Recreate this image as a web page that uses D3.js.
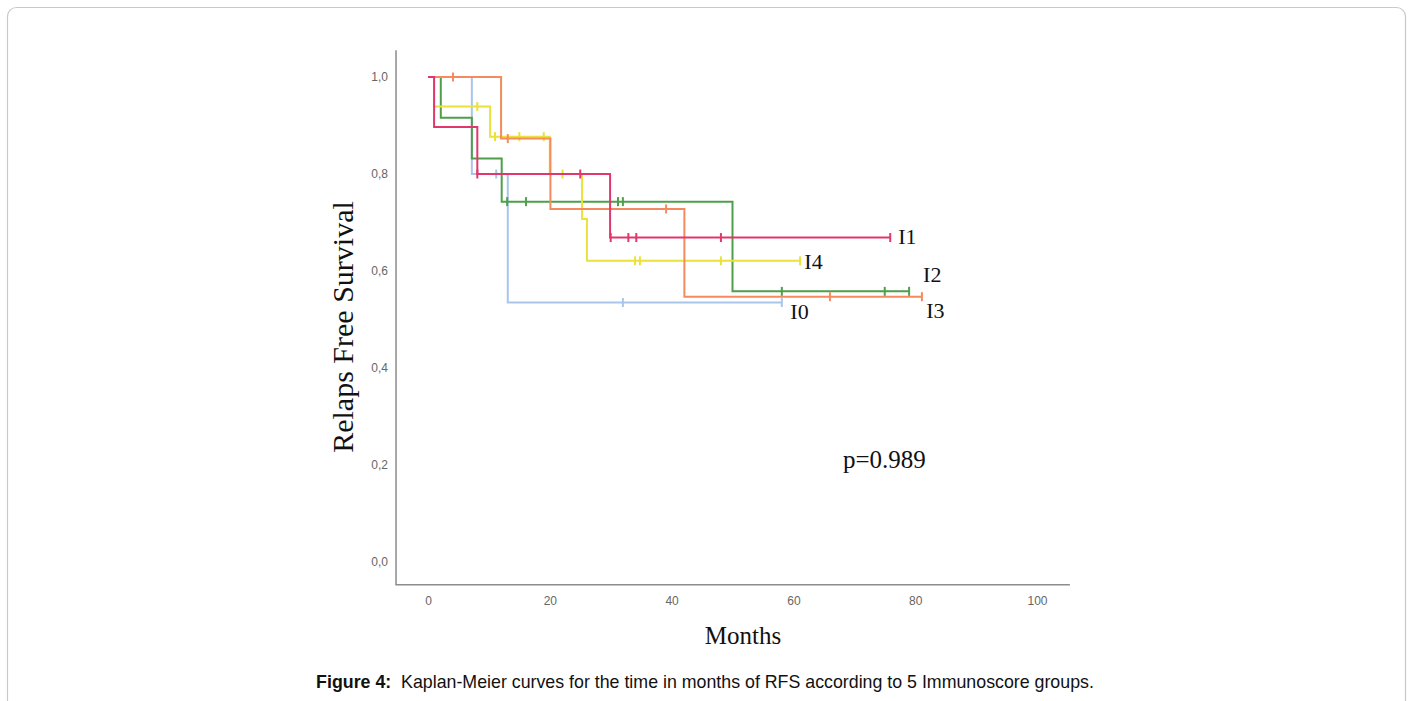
<!DOCTYPE html>
<html>
<head>
<meta charset="utf-8">
<script src="https://cdn.jsdelivr.net/npm/d3@7"></script>
<style>
  html, body { margin: 0; padding: 0; background: #fff; }
  svg { display: block; }
</style>
</head>
<body>
<svg id="chart" width="1413" height="701"></svg>
<script>
// ---------- data ----------
const groups = ["I0", "I1", "I2", "I3", "I4"];
const groupColors = ["#a9c6ea", "#e0386c", "#4e9e4a", "#f48a5e", "#e8e23a"];

// step times (months) and survival after each step
const i0Times = [0, 7.2, 13.1];
const i0Surv  = [1.0, 0.80, 0.535];
const i0End = 58.1;
const i0Censor = [11.2, 32.0, 58.1];

const i1Times = [0, 1.0, 8.1, 29.9];
const i1Surv  = [1.0, 0.897, 0.80, 0.669];
const i1End = 75.9;
const i1Censor = [8.1, 25.0, 30.0, 32.9, 34.2, 48.1, 75.9];

const i2Times = [0, 2.1, 7.2, 12.1, 50.0];
const i2Surv  = [1.0, 0.916, 0.832, 0.743, 0.558];
const i2End = 79.0;
const i2Censor = [13.0, 16.1, 31.2, 32.0, 58.1, 75.0, 79.0];

const i3Times = [0, 12.0, 20.1, 42.1];
const i3Surv  = [1.0, 0.873, 0.728, 0.547];
const i3End = 81.1;
const i3Censor = [4.1, 13.1, 39.1, 66.0, 81.1];

const i4Times = [0, 1.0, 10.2, 20.0, 25.3, 26.1];
const i4Surv  = [1.0, 0.939, 0.877, 0.80, 0.707, 0.621];
const i4End = 61.1;
const i4Censor = [8.1, 11.0, 15.0, 19.0, 22.1, 34.0, 34.8, 48.1, 61.1];

const xTicks = [0, 20, 40, 60, 80, 100];
const yTicks = [0, 0.2, 0.4, 0.6, 0.8, 1.0];
const pValueText = "p=0.989";
const xTitle = "Months";
const yTitle = "Relaps Free Survival";
const captionBold = "Figure 4:";
const captionText = "Kaplan-Meier curves for the time in months of RFS according to 5 Immunoscore groups.";

// label positions (data coords) for the group tags
const labelMonths = [59.5, 77.2, 81.3, 81.8, 61.8];
const labelSurv   = [0.501, 0.656, 0.578, 0.504, 0.605];

// ---------- build ----------
const series = [
  {times: i0Times, surv: i0Surv, end: i0End, censor: i0Censor},
  {times: i1Times, surv: i1Surv, end: i1End, censor: i1Censor},
  {times: i2Times, surv: i2Surv, end: i2End, censor: i2Censor},
  {times: i3Times, surv: i3Surv, end: i3End, censor: i3Censor},
  {times: i4Times, surv: i4Surv, end: i4End, censor: i4Censor}
].map((s, i) => Object.assign(s, {name: groups[i], color: groupColors[i]}));

const svg = d3.select("#chart");

// outer rounded frame
svg.append("rect")
  .attr("x", 7.5).attr("y", 7.5)
  .attr("width", 1398).attr("height", 730)
  .attr("rx", 9).attr("ry", 9)
  .attr("fill", "none").attr("stroke", "#c9c9c9").attr("stroke-width", 1.2);

const x = d3.scaleLinear().domain([0, 100]).range([428, 1037]);
const y = d3.scaleLinear().domain([0, 1]).range([562, 77]);

const xMin = -5.25, xMax = 105.4, yMin = -0.047, yMax = 1.055;

// axis frame (L-shape)
const g = svg.append("g");
g.append("path")
  .attr("d", `M${x(xMin)},${y(yMax)} L${x(xMin)},${y(yMin)} L${x(xMax)},${y(yMin)}`)
  .attr("fill", "none").attr("stroke", "#8c8c8c").attr("stroke-width", 1.5);

// y axis labels
const fmt = d => d3.format(".1f")(d).replace(".", ",");
const yAxis = d3.axisLeft(y).tickValues(yTicks).tickFormat(fmt).tickSize(0).tickPadding(0);
const gy = g.append("g").attr("transform", `translate(${x(xMin) - 8},0)`).call(yAxis);
gy.select(".domain").remove();
gy.selectAll("text")
  .attr("font-family", "'Liberation Sans', Arial, sans-serif")
  .attr("font-size", 12).attr("fill", "#666");

// x axis labels
const xAxis = d3.axisBottom(x).tickValues(xTicks).tickFormat(d3.format("d")).tickSize(0).tickPadding(0);
const gx = g.append("g").attr("transform", `translate(0,${y(yMin) + 12})`).call(xAxis);
gx.select(".domain").remove();
gx.selectAll("text")
  .attr("font-family", "'Liberation Sans', Arial, sans-serif")
  .attr("font-size", 12).attr("fill", "#666");

// curves
const line = d3.line().x(d => x(d[0])).y(d => y(d[1])).curve(d3.curveStepAfter);
function survAt(s, t) {
  let v = s.surv[0];
  for (let i = 0; i < s.times.length; i++) if (s.times[i] <= t + 1e-9) v = s.surv[i];
  return v;
}
const drawOrder = [0, 2, 4, 3, 1];
drawOrder.forEach(i => {
  const s = series[i];
  const pts = s.times.map((t, k) => [t, s.surv[k]]);
  pts.push([s.end, s.surv[s.surv.length - 1]]);
  const gs = svg.append("g");
  gs.append("path").datum(pts).attr("d", line)
    .attr("fill", "none").attr("stroke", s.color).attr("stroke-width", 2);
  gs.selectAll("line.c").data(s.censor).enter().append("line")
    .attr("x1", d => x(d)).attr("x2", d => x(d))
    .attr("y1", d => y(survAt(s, d)) - 4.5).attr("y2", d => y(survAt(s, d)) + 4.5)
    .attr("stroke", s.color).attr("stroke-width", 2);
});

// group labels
series.forEach((s, i) => {
  svg.append("text")
    .attr("x", x(labelMonths[i])).attr("y", y(labelSurv[i]))
    .attr("font-family", "'Liberation Serif', 'Times New Roman', serif")
    .attr("font-size", 22).attr("fill", "#111")
    .text(s.name);
});

// p value
svg.append("text").attr("x", 843).attr("y", 468)
  .attr("font-family", "'Liberation Serif', 'Times New Roman', serif")
  .attr("font-size", 25).attr("fill", "#111").text(pValueText);

// axis titles
svg.append("text").attr("x", 743).attr("y", 644).attr("text-anchor", "middle")
  .attr("font-family", "'Liberation Serif', 'Times New Roman', serif")
  .attr("font-size", 25).attr("fill", "#111").text(xTitle);
svg.append("text")
  .attr("transform", "translate(353,327) rotate(-90)")
  .attr("text-anchor", "middle")
  .attr("font-family", "'Liberation Serif', 'Times New Roman', serif")
  .attr("font-size", 30).attr("fill", "#111").text(yTitle);

// caption
const cap = svg.append("text").attr("x", 705).attr("y", 688).attr("text-anchor", "middle")
  .attr("font-family", "'Liberation Sans', Arial, sans-serif")
  .attr("font-size", 17.8).attr("fill", "#111");
cap.append("tspan").attr("font-weight", "bold").text(captionBold);
cap.append("tspan").attr("xml:space", "preserve").text("\u00a0 " + captionText);
</script>
</body>
</html>
